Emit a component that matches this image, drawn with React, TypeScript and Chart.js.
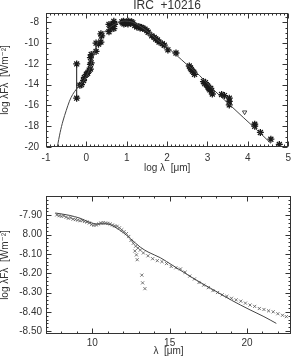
import { useEffect, useRef } from "react";
import { Chart, registerables } from "chart.js";
Chart.register(...registerables);

// ---------- Top panel: SED ----------
const sedTitle = "IRC  +10216";
const sedModelLogLam = [-0.72, -0.65, -0.58, -0.5, -0.42, -0.34, -0.25, -0.16, -0.08, 0.0, 0.06, 0.12, 0.18, 0.24, 0.3, 0.36, 0.45, 0.55, 0.65, 0.75, 0.85, 0.95, 1.05, 1.15, 1.3, 1.45, 1.6, 1.8, 2.0, 2.2, 2.5, 2.8, 3.1, 3.5, 3.9, 4.25, 4.57];
const sedModelLogF = [-20.0, -18.6, -17.5, -16.5, -15.6, -14.95, -14.45, -14.05, -13.7, -13.2, -12.7, -12.0, -11.2, -10.4, -9.7, -9.25, -8.9, -8.6, -8.3, -8.1, -7.95, -7.87, -7.9, -8.0, -8.3, -8.7, -9.15, -9.8, -10.4, -11.05, -12.1, -13.1, -14.3, -15.75, -17.2, -18.45, -19.65];

const photLogLam = [-0.24, -0.24, -0.16, -0.12, -0.07, -0.05, 0.0, 0.03, 0.07, 0.1, 0.1, 0.12, 0.1, 0.12, 0.24, 0.24, 0.3, 0.36, 0.36, 0.38, 0.56, 0.56, 0.6, 0.62, 0.68, 0.68, 0.7, 0.88, 0.9, 0.92, 0.95, 0.97, 1.0, 1.02, 1.05, 1.08, 1.1, 1.12, 1.15, 0.93, 1.03, 1.2, 1.25, 1.3, 1.33, 1.37, 1.4, 1.45, 1.5, 1.53, 1.62, 1.68, 1.72, 1.76, 1.8, 1.88, 1.93, 2.02, 2.22, 2.55, 2.58, 2.6, 2.63, 2.66, 2.68, 2.9, 2.93, 2.95, 2.97, 3.0, 3.02, 3.04, 3.06, 3.08, 3.1, 3.12, 3.35, 3.42, 3.54, 3.54, 3.54, 4.17, 4.17, 4.31, 4.57, 4.78];
const photLogF = [-12.0, -15.3, -14.05, -14.0, -13.6, -13.3, -13.0, -12.9, -12.6, -12.5, -12.05, -11.9, -11.4, -11.1, -10.0, -10.8, -10.1, -9.1, -9.9, -9.3, -8.2, -8.9, -8.5, -8.3, -7.9, -8.6, -8.2, -7.95, -8.05, -7.9, -8.0, -8.1, -7.95, -8.05, -7.9, -8.0, -8.1, -7.95, -8.05, -8.15, -8.15, -8.3, -8.45, -8.4, -8.55, -8.5, -8.6, -8.65, -8.8, -8.95, -9.3, -9.45, -9.6, -9.7, -9.9, -10.05, -10.2, -10.65, -10.95, -12.2, -12.4, -12.55, -12.7, -12.8, -13.0, -13.7, -13.9, -13.8, -14.0, -14.1, -14.25, -14.4, -14.5, -14.35, -14.6, -14.9, -14.95, -15.05, -15.3, -15.6, -15.95, -17.8, -18.0, -18.6, -19.25, -19.75];

const errLogLam = [-0.24, 0.11, 0.24, 0.36, 0.56, 0.68, 2.02, 2.22, 3.54, 4.17];
const errLow = [-15.3, -12.0, -10.8, -9.9, -8.9, -8.6, -10.85, -11.2, -16.2, -18.1];
const errHigh = [-12.0, -11.1, -10.0, -9.1, -8.2, -7.85, -10.45, -10.75, -15.2, -17.7];

const limitLogLam = [3.92];
const limitLogF = [-16.65];

const topXTicks = [-1, 0, 1, 2, 3, 4, 5];
const topYTicks = [-20, -18, -16, -14, -12, -10, -8];

// ---------- Bottom panel: spectrum ----------
const specLam = [7.7, 7.85, 8.0, 8.15, 8.3, 8.45, 8.6, 8.75, 8.9, 9.05, 9.2, 9.35, 9.5, 9.65, 9.8, 9.95, 10.1, 10.25, 10.4, 10.55, 10.7, 10.85, 11.0, 11.15, 11.3, 11.45, 11.6, 11.75, 11.9, 12.05, 12.2, 12.35, 12.5, 12.65, 12.8, 12.75, 12.85, 12.9, 13.2, 13.25, 13.4, 12.95, 13.1, 13.3, 13.6, 13.9, 14.2, 14.5, 14.8, 15.1, 15.4, 15.7, 16.0, 16.3, 16.6, 16.9, 17.2, 17.5, 17.8, 18.1, 18.4, 18.7, 19.0, 19.3, 19.6, 19.9, 20.2, 20.5, 20.8, 21.1, 21.4, 21.7, 22.0, 22.3, 22.55];
const specLogF = [-7.898, -7.902, -7.905, -7.903, -7.91, -7.915, -7.913, -7.92, -7.922, -7.925, -7.928, -7.927, -7.932, -7.935, -7.94, -7.948, -7.952, -7.95, -7.945, -7.94, -7.938, -7.94, -7.942, -7.945, -7.95, -7.955, -7.957, -7.965, -7.975, -7.985, -7.995, -8.01, -8.03, -8.045, -8.06, -8.085, -8.105, -8.13, -8.21, -8.25, -8.28, -8.07, -8.08, -8.095, -8.11, -8.125, -8.135, -8.14, -8.15, -8.165, -8.172, -8.178, -8.195, -8.215, -8.23, -8.248, -8.262, -8.275, -8.29, -8.3, -8.312, -8.32, -8.33, -8.338, -8.345, -8.355, -8.365, -8.372, -8.383, -8.388, -8.395, -8.4, -8.41, -8.418, -8.425];

const specModelLam = [7.6, 8.5, 9.2, 9.8, 10.3, 10.9, 11.6, 12.0, 12.45, 13.1, 13.6, 14.4, 15.2, 16.0, 16.5, 17.8, 19.0, 20.2, 21.1, 21.9];
const specModelLogF = [-7.888, -7.9, -7.915, -7.935, -7.945, -7.944, -7.968, -7.99, -8.02, -8.065, -8.09, -8.12, -8.16, -8.2, -8.225, -8.285, -8.34, -8.39, -8.425, -8.46];

const botXTicks = [10, 15, 20];
const botYTicks = [-8.5, -8.4, -8.3, -8.2, -8.1, -8.0, -7.9];
const botYTickLabels = ["-8.50", "-8.40", "-8.30", "-8.20", "-8.10", "8.00", "-7.90"];

const FONT = "'Liberation Sans', 'DejaVu Sans', sans-serif";
const INK = "#1a1a1a";
const TXT = "#333";

const frameTicks = {
  id: "frameTicks",
  afterDraw(chart: any, _args: any, opts: any) {
    const { ctx, chartArea: a, scales } = chart;
    const x = scales.x, y = scales.y;
    ctx.save();
    ctx.strokeStyle = "#333";
    ctx.lineWidth = 1;
    const L = Math.round(a.left) + 0.5, R = Math.round(a.right) - 0.5;
    const T = Math.round(a.top) + 0.5, B = Math.round(a.bottom) - 0.5;
    ctx.strokeRect(L, T, R - L, B - T);
    const isMajor = (v: number, majors: number[]) => majors.some((m) => Math.abs(m - v) < 1e-6);
    ctx.beginPath();
    const i0 = Math.ceil(x.min / opts.xMinor - 1e-6), i1 = Math.floor(x.max / opts.xMinor + 1e-6);
    for (let i = i0; i <= i1; i++) {
      const v = i * opts.xMinor;
      const p = Math.round(x.getPixelForValue(v)) + 0.5;
      const len = isMajor(v, opts.xMajor) ? opts.majorLen : opts.minorLen;
      ctx.moveTo(p, B); ctx.lineTo(p, B - len);
      ctx.moveTo(p, T); ctx.lineTo(p, T + len);
    }
    const j0 = Math.ceil(y.min / opts.yMinor - 1e-6), j1 = Math.floor(y.max / opts.yMinor + 1e-6);
    for (let j = j0; j <= j1; j++) {
      const v = j * opts.yMinor;
      const p = Math.round(y.getPixelForValue(v)) + 0.5;
      const len = isMajor(v, opts.yMajor) ? opts.majorLen : opts.minorLen;
      ctx.moveTo(L, p); ctx.lineTo(L + len, p);
      ctx.moveTo(R, p); ctx.lineTo(R - len, p);
    }
    ctx.stroke();
    ctx.restore();
  },
};

function pts(xs: number[], ys: number[]) {
  return xs.map((v, i) => ({ x: v, y: ys[i] }));
}

function TopChart() {
  const ref = useRef<HTMLCanvasElement>(null);
  useEffect(() => {
    const errData: any[] = [];
    errLogLam.forEach((v, i) => {
      errData.push({ x: v, y: errLow[i] }, { x: v, y: errHigh[i] }, { x: v, y: null });
    });
    const chart = new Chart(ref.current!, {
      type: "scatter",
      data: {
        datasets: [
          { data: pts(sedModelLogLam, sedModelLogF), showLine: true, borderColor: "#444", borderWidth: 1, pointRadius: 0, cubicInterpolationMode: "monotone" },
          { data: errData, showLine: true, spanGaps: false, borderColor: INK, borderWidth: 1, pointRadius: 0 },
          { data: pts(photLogLam, photLogF), pointStyle: "star", pointRadius: 3.5, borderColor: INK, borderWidth: 1.3, backgroundColor: INK },
          { data: pts(limitLogLam, limitLogF), pointStyle: "triangle", rotation: 180, pointRadius: 2.5, borderColor: INK, borderWidth: 0.8, backgroundColor: "rgba(0,0,0,0)" },
        ],
      },
      options: {
        animation: false,
        responsive: false,
        events: [],
        layout: { padding: { left: 0, right: 4, top: 0, bottom: 0 } },
        plugins: {
          legend: { display: false },
          tooltip: { enabled: false },
          title: { display: true, text: sedTitle, fullSize: false, color: TXT, font: { family: FONT, size: 12, weight: "normal", lineHeight: 1 }, padding: { top: 0, bottom: 1 } },
          frameTicks: { xMinor: 0.1, xMajor: topXTicks, yMinor: 0.5, yMajor: topYTicks, majorLen: 5, minorLen: 2 },
        } as any,
        scales: {
          x: {
            type: "linear", min: -1, max: 5,
            grid: { display: false, drawTicks: false }, border: { display: false },
            afterBuildTicks: (s: any) => { s.ticks = topXTicks.map((v) => ({ value: v })); },
            afterFit: (s: any) => { s.height = 26; },
            ticks: { padding: 5, color: TXT, font: { family: FONT, size: 10 }, maxRotation: 0, autoSkip: false },
            title: { display: true, text: "log \u03BB  [\u03BCm]", color: TXT, font: { family: FONT, size: 10, lineHeight: 1 }, padding: 0 },
          },
          y: {
            type: "linear", min: -20, max: -7.1,
            grid: { display: false, drawTicks: false }, border: { display: false },
            afterBuildTicks: (s: any) => { s.ticks = topYTicks.map((v) => ({ value: v })); },
            afterFit: (s: any) => { s.width = 46; },
            ticks: { padding: 7, color: TXT, font: { family: FONT, size: 10 }, autoSkip: false },
            title: { display: true, text: "log \u03BBF\u03BB  [Wm\u207B\u00B2]", color: TXT, font: { family: FONT, size: 10, lineHeight: 1 }, padding: 0 },
          },
        },
      },
      plugins: [frameTicks],
    } as any);
    return () => chart.destroy();
  }, []);
  return <canvas ref={ref} width={296} height={173} style={{ position: "absolute", left: 0, top: 0, width: 296, height: 173 }} />;
}

function BottomChart() {
  const ref = useRef<HTMLCanvasElement>(null);
  useEffect(() => {
    const chart = new Chart(ref.current!, {
      type: "scatter",
      data: {
        datasets: [
          { data: pts(specModelLam, specModelLogF), showLine: true, borderColor: "#444", borderWidth: 1, pointRadius: 0, cubicInterpolationMode: "monotone" },
          { data: pts(specLam, specLogF), pointStyle: "crossRot", pointRadius: 2.2, borderColor: "#555", borderWidth: 0.8 },
        ],
      },
      options: {
        animation: false,
        responsive: false,
        events: [],
        layout: { padding: { left: 0, right: 5, top: 20, bottom: 0 } },
        plugins: {
          legend: { display: false },
          tooltip: { enabled: false },
          frameTicks: { xMinor: 1, xMajor: botXTicks, yMinor: 0.02, yMajor: botYTicks, majorLen: 5, minorLen: 2 },
        } as any,
        scales: {
          x: {
            type: "linear", min: 7, max: 22.85,
            grid: { display: false, drawTicks: false }, border: { display: false },
            afterBuildTicks: (s: any) => { s.ticks = botXTicks.map((v) => ({ value: v })); },
            afterFit: (s: any) => { s.height = 22; },
            ticks: { padding: 3, color: TXT, font: { family: FONT, size: 10 }, maxRotation: 0, autoSkip: false },
            title: { display: true, text: "\u03BB  [\u03BCm]", color: TXT, font: { family: FONT, size: 10, lineHeight: 1 }, padding: 0 },
          },
          y: {
            type: "linear", min: -8.515, max: -7.8,
            grid: { display: false, drawTicks: false }, border: { display: false },
            afterBuildTicks: (s: any) => { s.ticks = botYTicks.map((v) => ({ value: v })); },
            afterFit: (s: any) => { s.width = 46; },
            ticks: { padding: 4, color: TXT, font: { family: FONT, size: 10 }, autoSkip: false, callback: (_v: any, i: number) => botYTickLabels[i] },
            title: { display: true, text: "log \u03BBF\u03BB  [Wm\u207B\u00B2]", color: TXT, font: { family: FONT, size: 10, lineHeight: 1 }, padding: 0 },
          },
        },
      },
      plugins: [frameTicks],
    } as any);
    return () => chart.destroy();
  }, []);
  return <canvas ref={ref} width={296} height={180} style={{ position: "absolute", left: 0, top: 176, width: 296, height: 180 }} />;
}

export default function App() {
  return (
    <div style={{ position: "fixed", left: 0, top: 0, width: 296, height: 356, overflow: "hidden", background: "#fff" }}>
      <TopChart />
      <BottomChart />
    </div>
  );
}
